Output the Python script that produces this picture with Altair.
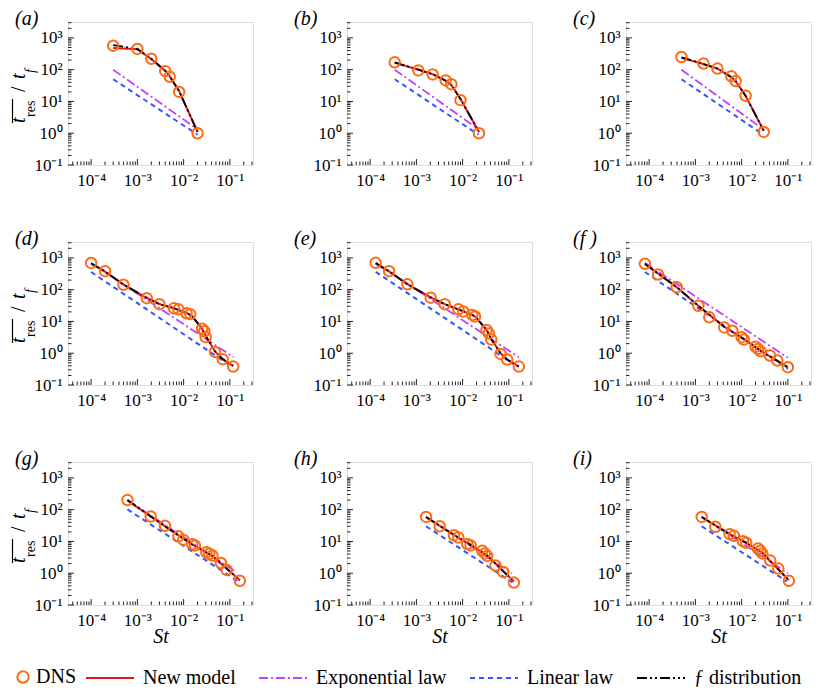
import altair as alt
import pandas as pd

# ---------------- colours / series ----------------
ORANGE = "#ff6a13"
SERIES = ["New model", "Exponential law", "Linear law", "f distribution"]
SERIES_COLORS = ["#e8141c", "#bf40ff", "#3355ff", "#000000"]
SERIES_DASH = [[1, 0], [9, 3, 2, 3], [5, 4], [10, 3, 2, 3, 2, 3]]

# ---------------- tick values / labels ----------------
X_TICKS = [1e-4, 1e-3, 1e-2, 1e-1]
X_TICK_LABELS = ["10⁻⁴", "10⁻³", "10⁻²", "10⁻¹"]
Y_TICKS = [1e-1, 1e0, 1e1, 1e2, 1e3]
Y_TICK_LABELS = ["10⁻¹", "10⁰", "10¹", "10²", "10³"]
MINOR_MULT = [2, 3, 4, 5, 6, 7, 8, 9]
X_DOMAIN = [10 ** -4.5, 10 ** -0.5]
Y_DOMAIN = [0.1, 10 ** 3.5]

# ---------------- data: panel (a) ----------------
A_DNS_ST = [3.0e-4, 1.0e-3, 2.0e-3, 4.0e-3, 5.0e-3, 8.0e-3, 2.0e-2]
A_DNS_T = [570, 450, 220, 90, 60, 20, 1.0]
A_NEW_ST = [3.0e-4, 1.0e-3, 2.0e-3, 4.0e-3, 5.0e-3, 8.0e-3, 2.0e-2]
A_NEW_T = [480, 440, 215, 92, 62, 21, 1.1]
A_FD_ST = [3.0e-4, 1.0e-3, 2.0e-3, 4.0e-3, 5.0e-3, 8.0e-3, 2.0e-2]
A_FD_T = [590, 450, 220, 92, 62, 21, 1.1]
A_EXP_ST = [3.0e-4, 1.9e-2]
A_EXP_T = [100, 1.4]
A_LIN_ST = [3.0e-4, 2.0e-2]
A_LIN_T = [50, 0.9]

# ---------------- (b) ----------------
B_DNS_ST = [3.4e-4, 1.1e-3, 2.25e-3, 4.3e-3, 5.7e-3, 9.0e-3, 2.25e-2]
B_DNS_T = [170, 95, 71, 46, 35, 11, 1.0]
B_NEW_ST = [3.4e-4, 1.1e-3, 2.25e-3, 4.3e-3, 5.7e-3, 9.0e-3, 2.25e-2]
B_NEW_T = [165, 100, 72, 45, 33, 12, 1.1]
B_FD_ST = [3.4e-4, 1.1e-3, 2.25e-3, 4.3e-3, 5.7e-3, 9.0e-3, 2.25e-2]
B_FD_T = [170, 100, 72, 45, 33, 12, 1.1]
B_EXP_ST = [3.4e-4, 2.1e-2]
B_EXP_T = [100, 1.4]
B_LIN_ST = [3.4e-4, 2.2e-2]
B_LIN_T = [50, 0.9]

# ---------------- (c) ----------------
C_DNS_ST = [5.0e-4, 1.5e-3, 3.0e-3, 6.0e-3, 7.4e-3, 1.22e-2, 3.0e-2]
C_DNS_T = [250, 155, 108, 62, 44, 15, 1.1]
C_NEW_ST = [5.0e-4, 1.5e-3, 3.0e-3, 6.0e-3, 7.4e-3, 1.22e-2, 3.0e-2]
C_NEW_T = [235, 150, 108, 58, 44, 15, 1.2]
C_FD_ST = [5.0e-4, 1.5e-3, 3.0e-3, 6.0e-3, 7.4e-3, 1.22e-2, 3.0e-2]
C_FD_T = [245, 150, 108, 58, 44, 15, 1.2]
C_EXP_ST = [5.0e-4, 2.6e-2]
C_EXP_T = [100, 1.5]
C_LIN_ST = [5.0e-4, 2.8e-2]
C_LIN_T = [50, 0.95]

# ---------------- (d) ----------------
D_DNS_ST = [1.0e-4, 2.0e-4, 5.0e-4, 1.6e-3, 3.0e-3, 6.2e-3, 7.7e-3, 1.16e-2, 1.39e-2,
            2.5e-2, 2.8e-2, 3.0e-2, 4.75e-2, 7.0e-2, 1.18e-1]
D_DNS_T = [695, 383, 143, 54, 35, 26, 24, 18, 17, 5.9, 4.9, 3.2, 1.1, 0.65, 0.38]
D_NEW_ST = [1.0e-4, 2.0e-4, 5.0e-4, 1.6e-3, 3.0e-3, 6.2e-3, 1.16e-2, 1.5e-2, 2.5e-2,
            3.0e-2, 4.75e-2, 7.0e-2, 1.18e-1]
D_NEW_T = [650, 370, 145, 55, 35, 26, 18.5, 15, 6.0, 3.5, 1.15, 0.65, 0.4]
D_FD_ST = [1.0e-4, 2.0e-4, 5.0e-4, 1.6e-3, 3.0e-3, 6.2e-3, 1.16e-2, 1.5e-2, 2.5e-2,
           3.0e-2, 4.75e-2, 7.0e-2, 1.18e-1]
D_FD_T = [680, 375, 145, 55, 35, 26, 18.5, 15, 6.0, 3.5, 1.15, 0.65, 0.4]
D_EXP_ST = [1.0e-4, 1.2e-1]
D_EXP_T = [690, 0.75]
D_LIN_ST = [1.0e-4, 1.1e-1]
D_LIN_T = [360, 0.38]

# ---------------- (e) ----------------
E_DNS_ST = [1.32e-4, 2.57e-4, 6.4e-4, 2.04e-3, 4.1e-3, 8.1e-3, 1.03e-2, 1.62e-2, 1.85e-2,
            3.3e-2, 3.7e-2, 4.16e-2, 6.6e-2, 9.2e-2, 1.64e-1]
E_DNS_T = [698, 383, 147, 56, 35, 24, 20.5, 16, 14.3, 5.4, 4.2, 2.7, 0.95, 0.63, 0.38]
E_NEW_ST = [1.32e-4, 2.57e-4, 6.4e-4, 2.04e-3, 4.1e-3, 8.1e-3, 1.62e-2, 1.9e-2, 3.3e-2,
            4.16e-2, 6.6e-2, 9.2e-2, 1.64e-1]
E_NEW_T = [650, 375, 148, 57, 35, 24, 16, 14, 5.4, 2.8, 1.0, 0.63, 0.38]
E_FD_ST = [1.32e-4, 2.57e-4, 6.4e-4, 2.04e-3, 4.1e-3, 8.1e-3, 1.62e-2, 1.9e-2, 3.3e-2,
           4.16e-2, 6.6e-2, 9.2e-2, 1.64e-1]
E_FD_T = [690, 380, 148, 57, 35, 24, 16, 14, 5.4, 2.8, 1.0, 0.63, 0.38]
E_EXP_ST = [1.32e-4, 1.64e-1]
E_EXP_T = [700, 0.75]
E_LIN_ST = [1.32e-4, 1.55e-1]
E_LIN_T = [365, 0.37]

# ---------------- (f) ----------------
F_DNS_ST = [8.1e-5, 1.56e-4, 3.95e-4, 1.16e-3, 2.0e-3, 4.2e-3, 6.3e-3, 1.0e-2, 1.12e-2,
            2.0e-2, 2.25e-2, 2.57e-2, 4.1e-2, 5.9e-2, 1.0e-1]
F_DNS_T = [650, 300, 120, 31, 13.5, 6.5, 5.1, 3.2, 2.7, 1.6, 1.37, 1.15, 0.85, 0.59, 0.365]
F_NEW_ST = [8.1e-5, 3.95e-4, 1.16e-3, 4.2e-3, 1.0e-2, 2.57e-2, 1.0e-1]
F_NEW_T = [640, 120, 31, 6.8, 3.1, 1.2, 0.36]
F_FD_ST = [8.1e-5, 3.95e-4, 1.16e-3, 4.2e-3, 1.0e-2, 2.57e-2, 1.0e-1]
F_FD_T = [650, 120, 31, 6.8, 3.1, 1.2, 0.36]
F_EXP_ST = [8.1e-5, 1.0e-1]
F_EXP_T = [700, 0.72]
F_LIN_ST = [8.1e-5, 1.0e-1]
F_LIN_T = [360, 0.32]

# ---------------- (g) ----------------
G_DNS_ST = [6.1e-4, 1.94e-3, 3.95e-3, 7.7e-3, 9.8e-3, 1.54e-2, 1.76e-2, 3.1e-2, 3.6e-2,
            4.2e-2, 6.4e-2, 8.5e-2, 1.64e-1]
G_DNS_T = [200, 61, 31, 14.5, 11.4, 8.2, 7.4, 4.6, 4.1, 3.6, 2.1, 1.27, 0.58]
G_NEW_ST = [6.1e-4, 3.95e-3, 1.54e-2, 4.2e-2, 1.64e-1]
G_NEW_T = [195, 30, 8.0, 3.5, 0.6]
G_FD_ST = [6.1e-4, 3.95e-3, 1.54e-2, 4.2e-2, 1.64e-1]
G_FD_T = [200, 30, 8.0, 3.5, 0.6]
G_EXP_ST = [6.1e-4, 1.3e-1]
G_EXP_T = [200, 1.15]
G_LIN_ST = [6.1e-4, 1.55e-1]
G_LIN_T = [102, 0.54]

# ---------------- (h) ----------------
H_DNS_ST = [1.62e-3, 3.19e-3, 6.5e-3, 8.06e-3, 1.26e-2, 1.49e-2, 2.65e-2, 3.03e-2, 3.4e-2,
            5.15e-2, 7.55e-2, 1.28e-1]
H_DNS_T = [59, 30, 15.8, 13.3, 8.3, 7.5, 5.1, 4.2, 3.5, 1.74, 1.1, 0.51]
H_NEW_ST = [1.62e-3, 6.5e-3, 1.49e-2, 3.4e-2, 1.28e-1]
H_NEW_T = [58, 16, 7.8, 3.6, 0.55]
H_FD_ST = [1.62e-3, 6.5e-3, 1.49e-2, 3.4e-2, 1.28e-1]
H_FD_T = [59, 16, 7.8, 3.6, 0.55]
H_EXP_ST = [1.62e-3, 1.17e-1]
H_EXP_T = [60, 1.0]
H_LIN_ST = [1.62e-3, 1.2e-1]
H_LIN_T = [30, 0.51]

# ---------------- (i) ----------------
I_DNS_ST = [1.37e-3, 2.7e-3, 5.5e-3, 6.8e-3, 1.07e-2, 1.26e-2, 2.25e-2, 2.53e-2, 2.8e-2,
            4.16e-2, 6.2e-2, 1.05e-1]
I_DNS_T = [59, 29, 17, 15, 10.2, 9.1, 6.0, 5.1, 4.2, 2.5, 1.4, 0.58]
I_NEW_ST = [1.37e-3, 5.5e-3, 1.26e-2, 2.8e-2, 1.05e-1]
I_NEW_T = [58, 17, 9.0, 4.4, 0.6]
I_FD_ST = [1.37e-3, 5.5e-3, 1.26e-2, 2.8e-2, 1.05e-1]
I_FD_T = [59, 17, 9.0, 4.4, 0.6]
I_EXP_ST = [1.37e-3, 1.0e-1]
I_EXP_T = [60, 1.0]
I_LIN_ST = [1.37e-3, 9.5e-2]
I_LIN_T = [30, 0.55]

PANEL_DATA = {
    "a": (A_DNS_ST, A_DNS_T, A_NEW_ST, A_NEW_T, A_FD_ST, A_FD_T, A_EXP_ST, A_EXP_T, A_LIN_ST, A_LIN_T),
    "b": (B_DNS_ST, B_DNS_T, B_NEW_ST, B_NEW_T, B_FD_ST, B_FD_T, B_EXP_ST, B_EXP_T, B_LIN_ST, B_LIN_T),
    "c": (C_DNS_ST, C_DNS_T, C_NEW_ST, C_NEW_T, C_FD_ST, C_FD_T, C_EXP_ST, C_EXP_T, C_LIN_ST, C_LIN_T),
    "d": (D_DNS_ST, D_DNS_T, D_NEW_ST, D_NEW_T, D_FD_ST, D_FD_T, D_EXP_ST, D_EXP_T, D_LIN_ST, D_LIN_T),
    "e": (E_DNS_ST, E_DNS_T, E_NEW_ST, E_NEW_T, E_FD_ST, E_FD_T, E_EXP_ST, E_EXP_T, E_LIN_ST, E_LIN_T),
    "f": (F_DNS_ST, F_DNS_T, F_NEW_ST, F_NEW_T, F_FD_ST, F_FD_T, F_EXP_ST, F_EXP_T, F_LIN_ST, F_LIN_T),
    "g": (G_DNS_ST, G_DNS_T, G_NEW_ST, G_NEW_T, G_FD_ST, G_FD_T, G_EXP_ST, G_EXP_T, G_LIN_ST, G_LIN_T),
    "h": (H_DNS_ST, H_DNS_T, H_NEW_ST, H_NEW_T, H_FD_ST, H_FD_T, H_EXP_ST, H_EXP_T, H_LIN_ST, H_LIN_T),
    "i": (I_DNS_ST, I_DNS_T, I_NEW_ST, I_NEW_T, I_FD_ST, I_FD_T, I_EXP_ST, I_EXP_T, I_LIN_ST, I_LIN_T),
}
PANEL_LABELS = {"a": "(a)", "b": "(b)", "c": "(c)", "d": "(d)", "e": "(e)",
                "f": "(f )", "g": "(g)", "h": "(h)", "i": "(i)"}

FONT = "Liberation Serif"
W, H = 185, 143


def label_expr(vals, labs):
    expr = "'" + labs[-1] + "'"
    for v, lab in reversed(list(zip(vals[:-1], labs[:-1]))):
        expr = "datum.value < " + repr(v * 3) + " ? '" + lab + "' : " + expr
    return expr


def minor_ticks(lo, hi, kmin, kmax):
    out = []
    for k in range(kmin, kmax + 1):
        for m in MINOR_MULT:
            v = m * 10.0 ** k
            if lo <= v <= hi:
                out.append(v)
    return out


X_MINOR = minor_ticks(X_DOMAIN[0], X_DOMAIN[1], -5, -1)
Y_MINOR = minor_ticks(Y_DOMAIN[0], Y_DOMAIN[1], -1, 3)

XS = alt.Scale(type="log", domain=X_DOMAIN, nice=False)
YS = alt.Scale(type="log", domain=Y_DOMAIN, nice=False)

LINE_LEGEND = alt.Legend(
    title=None, orient="none", legendX=17, legendY=645, direction="horizontal",
    symbolType="M-1,0H3.8", symbolSize=400, symbolStrokeWidth=2,
    labelOffset=36, columnPadding=19, padding=0,
    labelFont=FONT, labelFontSize=20, labelColor="black", labelLimit=300,
    labelExpr="datum.label == 'f distribution' ? 'ƒ distribution' : datum.label",
)
DNS_LEGEND = alt.Legend(
    title=None, orient="none", legendX=-55, legendY=645, direction="horizontal",
    symbolType="circle", symbolSize=130, symbolStrokeWidth=2,
    symbolStrokeColor=ORANGE, symbolFillColor="transparent",
    labelOffset=3, padding=0,
    labelFont=FONT, labelFontSize=20, labelColor="black",
)

COLOR = alt.Color("series:N", scale=alt.Scale(domain=SERIES, range=SERIES_COLORS), legend=LINE_LEGEND)
DASH = alt.StrokeDash("series:N", scale=alt.Scale(domain=SERIES, range=SERIES_DASH), legend=LINE_LEGEND)
SHAPE = alt.Shape("kind:N", scale=alt.Scale(domain=["DNS"], range=["circle"]), legend=DNS_LEGEND)

ONE = pd.DataFrame({"k": [0]})


def make_panel(key, first_col, last_row):
    (dns_st, dns_t, new_st, new_t, fd_st, fd_t, exp_st, exp_t, lin_st, lin_t) = PANEL_DATA[key]

    x_axis = alt.Axis(values=X_TICKS, labelExpr=label_expr(X_TICKS, X_TICK_LABELS),
                      ticks=False, tickSize=0, domain=False, grid=False,
                      labelFont=FONT, labelFontSize=17, labelColor="black",
                      labelPadding=7, labelFlush=False, labelOverlap=False,
                      title="St" if last_row else None,
                      titleFont=FONT, titleFontSize=20, titleFontStyle="italic",
                      titleFontWeight="normal", titleColor="black", titlePadding=-2)
    y_axis = alt.Axis(values=Y_TICKS, labelExpr=label_expr(Y_TICKS, Y_TICK_LABELS),
                      ticks=False, tickSize=0, domain=False, grid=False,
                      labelFont=FONT, labelFontSize=17, labelColor="black",
                      labelPadding=6, labelFlush=False, labelOverlap=False, title=None)
    X = alt.X("St:Q", scale=XS, axis=x_axis)
    Y = alt.Y("t:Q", scale=YS, axis=y_axis)

    def line_df(st, t, name):
        return pd.DataFrame({"St": st, "t": t, "series": name})

    layers = []
    for st, t, name, sw in [(exp_st, exp_t, "Exponential law", 1.8),
                            (lin_st, lin_t, "Linear law", 2.0),
                            (new_st, new_t, "New model", 2.0),
                            (fd_st, fd_t, "f distribution", 1.8)]:
        layers.append(
            alt.Chart(line_df(st, t, name)).mark_line(strokeWidth=sw, clip=True)
            .encode(x=X, y=Y, color=COLOR, strokeDash=DASH)
        )

    pts = pd.DataFrame({"St": dns_st, "t": dns_t, "kind": "DNS"})
    layers.append(
        alt.Chart(pts).mark_point(filled=False, size=110, strokeWidth=2, color=ORANGE, opacity=1)
        .encode(x=X, y=Y, shape=SHAPE)
    )

    # inward ticks
    xmaj = pd.DataFrame({"St": X_TICKS})
    xmin = pd.DataFrame({"St": X_MINOR})
    ymaj = pd.DataFrame({"t": Y_TICKS})
    ymin = pd.DataFrame({"t": Y_MINOR})
    layers.append(alt.Chart(xmaj).mark_rule(color="#222", strokeWidth=1)
                  .encode(x=X, y=alt.value(H), y2=alt.value(H - 6)))
    layers.append(alt.Chart(xmin).mark_rule(color="#222", strokeWidth=1)
                  .encode(x=X, y=alt.value(H), y2=alt.value(H - 3.5)))
    layers.append(alt.Chart(ymaj).mark_rule(color="#222", strokeWidth=1)
                  .encode(y=Y, x=alt.value(0), x2=alt.value(6)))
    layers.append(alt.Chart(ymin).mark_rule(color="#222", strokeWidth=1)
                  .encode(y=Y, x=alt.value(0), x2=alt.value(3.5)))

    # panel label
    layers.append(alt.Chart(ONE).mark_text(text=PANEL_LABELS[key], font=FONT, fontSize=20,
                                           fontStyle="italic", align="left", baseline="alphabetic",
                                           color="black")
                  .encode(x=alt.value(-53), y=alt.value(3)))
    # invisible top anchor
    layers.append(alt.Chart(ONE).mark_rule(opacity=0, strokeWidth=0.5)
                  .encode(x=alt.value(0), x2=alt.value(5), y=alt.value(-13)))

    if first_col:
        pieces = [
            ("t", 20, "italic", -43, 101),
            ("res", 14, "normal", -33, 95),
            ("/", 20, "normal", -43, 70),
            ("t", 20, "italic", -43, 57),
            ("f", 14, "italic", -33, 51),
        ]
        for txt, fs, style, xx, yy in pieces:
            layers.append(alt.Chart(ONE).mark_text(text=txt, font=FONT, fontSize=fs, fontStyle=style,
                                                   angle=270, align="left", baseline="alphabetic",
                                                   color="black")
                          .encode(x=alt.value(xx), y=alt.value(yy)))
        layers.append(alt.Chart(ONE).mark_rule(color="black", strokeWidth=1.2)
                      .encode(x=alt.value(-55.5), y=alt.value(77), y2=alt.value(101)))

    return alt.layer(*layers).properties(width=W, height=H)


keys = ["a", "b", "c", "d", "e", "f", "g", "h", "i"]
panels = [make_panel(k, i % 3 == 0, i >= 6) for i, k in enumerate(keys)]

chart = alt.concat(*panels, columns=3, spacing={"row": 77, "column": 94}, bounds="flush").properties(
    padding=0
).configure_view(stroke="#1a1a1a", strokeWidth=1.3).configure(background="white")

chart.save("out.html", embed_options={"renderer": "svg", "actions": False})
